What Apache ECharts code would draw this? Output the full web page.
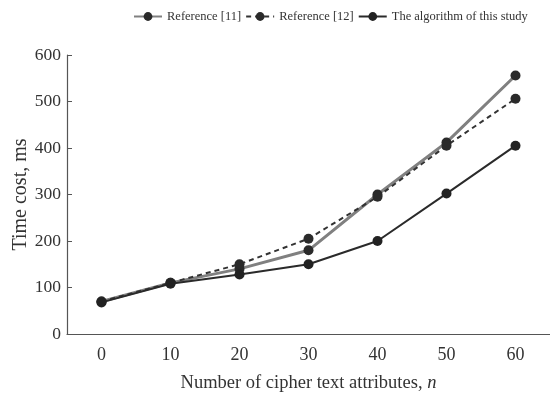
<!DOCTYPE html>
<html><head><meta charset="utf-8">
<script src="https://cdn.jsdelivr.net/npm/echarts@6/dist/echarts.min.js"></script>
<style>html,body{margin:0;padding:0;background:#fff}#c{width:550px;height:398px}</style>
</head><body><div id="c"></div>
<script>
const categories = ['0','10','20','30','40','50','60'];
const ref11 = [70, 110, 140, 180, 300, 412, 556];
const ref12 = [70, 110, 150, 205, 295, 405, 506];
const ours  = [68, 108, 128, 150, 200, 302, 405];
const seriesNames = ['Reference [11]', 'Reference [12]', 'The algorithm of this study'];
const yTicks = {min: 0, max: 600, interval: 100};

const font = 'Liberation Serif';
const chart = echarts.init(document.getElementById('c'));
chart.setOption({
  animation: false,
  backgroundColor: '#fff',
  legend: {
    top: 5, left: 128, itemGap: 4, itemWidth: 28, itemHeight: 11,
    textStyle: {fontFamily: font, fontSize: 12.5, color: '#333'},
    data: seriesNames
  },
  grid: {left: 67, right: 0, top: 55, bottom: 64},
  xAxis: {
    type: 'category', data: categories, boundaryGap: true,
    name: 'Number of cipher text attributes, {i|n}',
    nameLocation: 'middle', nameGap: 40, nameMoveOverlap: false,
    nameTextStyle: {fontFamily: font, fontSize: 18.5, color: '#333', rich: {i: {fontFamily: font, fontSize: 18.5, fontStyle: 'italic', color: '#333'}}},
    axisLine: {lineStyle: {color: '#555', width: 1.2}},
    axisTick: {inside: true, length: 5, lineStyle: {color: '#555'}},
    axisLabel: {fontFamily: font, fontSize: 18, color: '#333', margin: 12}
  },
  yAxis: {
    type: 'value', min: yTicks.min, max: yTicks.max, interval: yTicks.interval,
    name: 'Time cost, ms', nameLocation: 'middle', nameGap: 36, nameMoveOverlap: false,
    nameTextStyle: {fontFamily: font, fontSize: 20, color: '#333'},
    splitLine: {show: false},
    axisLine: {show: true, lineStyle: {color: '#555', width: 1.2}},
    axisTick: {show: true, inside: true, length: 5, lineStyle: {color: '#555'}},
    axisLabel: {fontFamily: font, fontSize: 17.5, color: '#333', margin: 6}
  },
  series: [
    {name: seriesNames[0], type: 'line', data: ref11, symbol: 'circle', symbolSize: 10,
     itemStyle: {color: '#2a2a2a'}, lineStyle: {color: '#808080', width: 3}},
    {name: seriesNames[1], type: 'line', data: ref12, symbol: 'circle', symbolSize: 10,
     itemStyle: {color: '#2a2a2a'}, lineStyle: {color: '#333', width: 2, type: [5, 4]}},
    {name: seriesNames[2], type: 'line', data: ours, symbol: 'circle', symbolSize: 10,
     itemStyle: {color: '#222'}, lineStyle: {color: '#2a2a2a', width: 2}}
  ]
});
</script></body></html>
